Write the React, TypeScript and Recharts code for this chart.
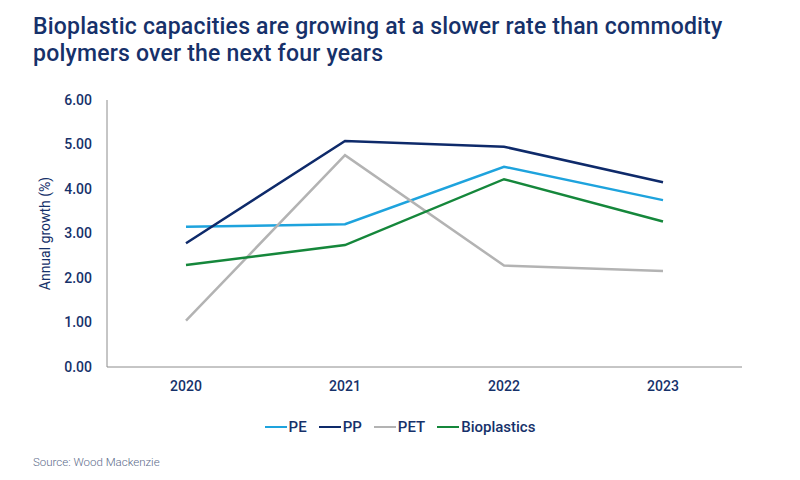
import { CartesianGrid, Line, LineChart, XAxis, YAxis } from "recharts";

const YEARS = ["2020", "2021", "2022", "2023"];
const PE = [3.15, 3.21, 4.5, 3.75];
const PP = [2.78, 5.08, 4.95, 4.15];
const PET = [1.04, 4.76, 2.28, 2.16];
const BIOPLASTICS = [2.29, 2.74, 4.22, 3.27];
const Y_TICKS = [0, 1, 2, 3, 4, 5, 6];

const SERIES = [
  { key: "PE", values: PE, color: "#1EA3DD" },
  { key: "PP", values: PP, color: "#0E2A6A" },
  { key: "PET", values: PET, color: "#B3B3B3" },
  { key: "Bioplastics", values: BIOPLASTICS, color: "#15873B" },
];

const rows = YEARS.map((year, i) => {
  const row: Record<string, string | number> = { year };
  SERIES.forEach((s) => {
    row[s.key] = s.values[i];
  });
  return row;
});

const NAVY = "#16316A";
const FONT = "Roboto, 'Noto Sans', sans-serif";

function YLabel({ viewBox }: any) {
  const cy = viewBox.y + viewBox.height / 2;
  const cx = viewBox.x - 2;
  return (
    <text
      x={cx}
      y={cy}
      transform={`rotate(-90 ${cx} ${cy})`}
      textAnchor="middle"
      dominantBaseline="central"
      fill={NAVY}
      fontSize={14}
      fontFamily={FONT}
    >
      Annual growth (%)
    </text>
  );
}

export default function App() {
  return (
    <div
      style={{
        position: "absolute",
        left: 0,
        top: 0,
        width: 800,
        height: 480,
        background: "#ffffff",
        fontFamily: FONT,
        overflow: "hidden",
      }}
    >
      <div
        style={{
          position: "absolute",
          left: 33,
          top: 13,
          fontSize: 23,
          fontWeight: 500,
          lineHeight: "27px",
          color: NAVY,
          letterSpacing: 0.2,
        }}
      >
        Bioplastic capacities are growing at a slower rate than commodity
        <br />
        polymers over the next four years
      </div>

      <div style={{ position: "absolute", left: 0, top: 0 }}>
        <LineChart
          width={800}
          height={480}
          data={rows}
          margin={{ top: 100, right: 58, bottom: 83, left: 47 }}
        >
          <CartesianGrid vertical={false} horizontal={false} />
          <XAxis
            dataKey="year"
            padding={{ left: 79, right: 79 }}
            axisLine={{ stroke: "#8C8C8C" }}
            tickLine={false}
            tickMargin={8}
            height={30}
            tick={{ fill: NAVY, fontSize: 14, fontWeight: 500, fontFamily: FONT }}
          />
          <YAxis
            width={60}
            domain={[0, 6]}
            ticks={Y_TICKS}
            interval={0}
            tickFormatter={(v: number) => v.toFixed(2)}
            axisLine={{ stroke: "#8C8C8C" }}
            tickLine={false}
            tickMargin={9}
            tick={{ fill: NAVY, fontSize: 14, fontWeight: 500, fontFamily: FONT }}
            label={<YLabel />}
          />
          {SERIES.map((s) => (
            <Line
              key={s.key}
              type="linear"
              dataKey={s.key}
              stroke={s.color}
              strokeWidth={2.5}
              dot={false}
              activeDot={false}
              isAnimationActive={false}
            />
          ))}
        </LineChart>
      </div>

      <div
        style={{
          position: "absolute",
          left: 0,
          top: 416,
          width: 800,
          display: "flex",
          justifyContent: "center",
          alignItems: "center",
          gap: 12,
          fontSize: 15,
          fontWeight: 500,
          color: NAVY,
          lineHeight: "22px",
        }}
      >
        {SERIES.map((s) => (
          <div key={s.key} style={{ display: "flex", alignItems: "center", gap: 2 }}>
            <span style={{ display: "inline-block", width: 22, height: 2.5, background: s.color }} />
            <span>{s.key}</span>
          </div>
        ))}
      </div>

      <div
        style={{
          position: "absolute",
          left: 33,
          top: 455,
          fontSize: 11.5,
          color: "#5C6B8A",
          fontWeight: 300,
        }}
      >
        Source: Wood Mackenzie
      </div>
    </div>
  );
}
